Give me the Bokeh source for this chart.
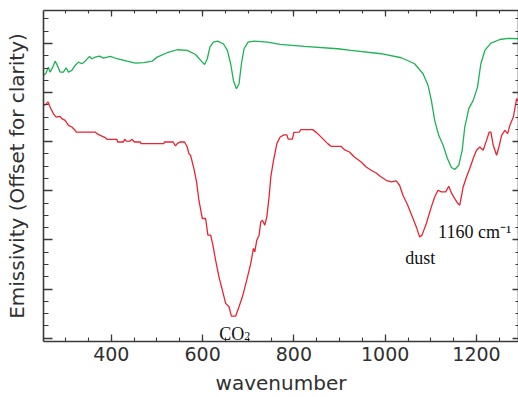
import numpy as np
from bokeh.plotting import figure
from bokeh.models import Range1d, LinearAxis, FixedTicker, Label
from bokeh.embed import file_html
from bokeh.resources import INLINE

# ---- data ----
red_wn = [251.2, 254.2, 261.5, 265.9, 273.1, 279.1, 287.9, 291.6, 298.9, 306.1, 313.6, 320.8, 323.0,
          364.8, 368.5, 375.8, 386.8, 390.5, 412.5, 413.8, 427.0, 429.2, 432.9, 440.2, 445.5, 450.5,
          463.7, 465.2, 514.9, 516.5, 535.6, 540.6, 544.4, 550.1, 560.4, 566.4, 569.9, 573.6, 580.9,
          586.8, 591.9, 599.3, 606.6, 611.6, 617.6, 622.6, 628.5, 635.8, 643.3, 650.5, 657.8, 663.1,
          672.5, 679.8, 687.2, 696.7, 705.5, 711.4, 714.3, 718.7, 723.7, 727.5, 731.2, 736.3, 740.7,
          745.7, 749.4, 755.4, 762.6, 769.9, 778.7, 784.6, 787.5, 796.7, 800.0, 811.7, 815.4, 841.1,
          852.1, 863.1, 874.1, 881.3, 903.3, 910.6, 921.6, 932.5, 947.3, 958.3, 969.2, 980.2, 991.2,
          1002.2, 1013.2, 1024.2, 1031.5, 1038.9, 1048.4, 1057.2, 1068.2, 1075.4, 1080.7, 1090.1,
          1101.1, 1108.4, 1115.8, 1123.1, 1132.5, 1139.2, 1145.1, 1152.3, 1158.3, 1163.3, 1170.8,
          1178.1, 1185.3, 1192.8, 1200.0, 1207.3, 1214.7, 1222.0, 1227.9, 1231.5, 1236.7, 1244.0,
          1249.1, 1255.0, 1262.2, 1268.2, 1273.2, 1280.7, 1287.9, 1293.0]
red_em = [4.774, 4.740, 4.807, 4.705, 4.571, 4.502, 4.516, 4.470, 4.435, 4.333, 4.299, 4.232, 4.197,
          4.197, 4.165, 4.130, 4.083, 4.049, 4.049, 3.994, 3.994, 4.049, 4.014, 4.008, 4.049, 3.994,
          3.994, 3.961, 3.961, 3.994, 3.994, 3.913, 3.961, 3.994, 3.994, 3.892, 3.758, 3.724, 3.459,
          3.181, 2.809, 2.437, 2.437, 2.098, 2.098, 1.894, 1.589, 1.250, 0.980, 0.709, 0.640, 0.451,
          0.451, 0.640, 0.843, 1.183, 1.522, 1.827, 1.758, 1.996, 2.098, 2.368, 2.402, 2.301, 2.470,
          2.876, 3.283, 3.622, 3.961, 4.096, 4.140, 4.140, 4.053, 4.053, 4.191, 4.197, 4.246, 4.246,
          4.165, 4.063, 3.961, 3.907, 3.907, 3.839, 3.791, 3.689, 3.587, 3.486, 3.419, 3.364, 3.283,
          3.215, 3.181, 3.201, 3.114, 2.911, 2.728, 2.524, 2.266, 2.063, 2.098, 2.335,
          2.673, 2.876, 3.012, 2.978, 2.978, 3.093, 2.957, 2.843, 2.754, 2.707, 3.079,
          3.283, 3.453, 3.657, 3.825, 3.892, 3.825, 4.028, 4.197, 4.197, 3.927, 3.724,
          3.892, 4.130, 4.232, 4.165, 4.333, 4.502, 4.876, 4.807]

green_wn = [251.2, 257.1, 262.1, 265.9, 271.8, 276.9, 281.9, 287.9, 295.1, 301.1, 306.1, 313.6, 320.8,
            328.1, 335.6, 342.8, 352.3, 357.5, 364.8, 374.2, 383.0, 397.8, 412.5, 434.5, 452.7, 471.0,
            489.4, 500.4, 522.4, 544.4, 566.4, 584.6, 599.3, 604.4, 610.3, 616.0, 623.5, 632.3, 645.5,
            654.3, 661.5, 667.5, 674.1, 679.8, 685.1, 690.8, 699.6, 712.8, 742.2, 769.9, 822.6, 896.0,
            925.3, 991.2, 1035.2, 1064.4, 1082.9, 1093.9, 1101.1, 1108.4, 1117.2, 1126.9, 1136.3,
            1145.1, 1152.3, 1161.1, 1168.6, 1174.3, 1183.1, 1192.8, 1202.2, 1209.5, 1218.3, 1231.5,
            1251.3, 1269.7, 1291.7]
green_em = [5.350, 5.396, 5.518, 5.417, 5.518, 5.640, 5.553, 5.417, 5.417, 5.506, 5.417, 5.451, 5.553,
            5.620, 5.587, 5.640, 5.736, 5.689, 5.722, 5.742, 5.701, 5.736, 5.689, 5.640, 5.600, 5.608,
            5.640, 5.722, 5.811, 5.872, 5.858, 5.776, 5.620, 5.573, 5.689, 5.925, 6.026, 6.047, 5.994,
            5.858, 5.587, 5.248, 5.079, 5.181, 5.587, 5.892, 6.026, 6.047, 6.026, 5.980, 5.939, 5.892,
            5.858, 5.791, 5.709, 5.587, 5.384, 5.146, 4.841, 4.435, 4.130, 3.927, 3.657,
            3.474, 3.433, 3.520, 3.825, 4.299, 4.673, 4.841, 5.112, 5.587, 5.858, 6.006,
            6.081, 6.102, 6.096]

x_major = [400, 600, 800, 1000, 1200]
x_minor = list(range(300, 1300, 50))
y_major = [0, 1, 2, 3, 4, 5, 6]
y_minor = [i * 0.25 for i in range(0, 28)]

# annotation texts and their anchor positions (data units)
co2_x, co2_y = 673.6, 0.085
dust_x, dust_y = 1077.0, 1.64
band_x, band_y = 1115.8, 2.165

RED = "#ec2330"
GREEN = "#1db254"
AXC = "#3a3a3a"
TICK_FONT = "DejaVu Sans"
SERIF = "Liberation Serif"

p = figure(width=518, height=397,
           x_range=Range1d(251.5, 1292), y_range=Range1d(-0.067, 6.671),
           output_backend="svg", toolbar_location=None,
           min_border_left=43, min_border_top=10, min_border_right=0, min_border_bottom=55)
p.outline_line_color = None
p.xgrid.visible = False
p.ygrid.visible = False

p.line(red_wn, red_em, line_color=RED, line_width=1.3)
p.line(green_wn, green_em, line_color=GREEN, line_width=1.3)

xt = FixedTicker(ticks=x_major, minor_ticks=x_minor)
yt = FixedTicker(ticks=y_major, minor_ticks=y_minor)

def style(ax, tin, min_in, labels):
    ax.axis_line_color = AXC
    ax.axis_line_width = 1.6
    ax.major_tick_line_color = AXC
    ax.minor_tick_line_color = AXC
    ax.major_tick_line_width = 1.3
    ax.minor_tick_line_width = 1.1
    ax.major_tick_in = tin
    ax.major_tick_out = 0
    ax.minor_tick_in = min_in
    ax.minor_tick_out = 0
    if labels:
        ax.major_label_text_font = TICK_FONT
        ax.major_label_text_font_size = "19px"
        ax.major_label_text_color = "#303030"
        ax.major_label_standoff = 5
    else:
        ax.major_label_text_font_size = "1px"
        ax.major_label_text_color = None
        ax.major_label_text_alpha = 0
        ax.major_label_standoff = 0

xa = p.xaxis[0]
xa.ticker = xt
style(xa, 7, 4, True)
xa.axis_label = "wavenumber"
xa.axis_label_text_font = TICK_FONT
xa.axis_label_text_font_size = "20px"
xa.axis_label_text_font_style = "normal"
xa.axis_label_text_color = "#303030"
xa.axis_label_standoff = 7

ya = p.yaxis[0]
ya.ticker = yt
style(ya, 9, 5, False)
ya.axis_label = "Emissivity (Offset for clarity)"
ya.axis_label_text_font = TICK_FONT
ya.axis_label_text_font_size = "20px"
ya.axis_label_text_font_style = "normal"
ya.axis_label_text_color = "#303030"
ya.axis_label_standoff = 15

top = LinearAxis(ticker=FixedTicker(ticks=x_major, minor_ticks=x_minor))
style(top, 6, 3, False)
p.add_layout(top, "above")
right = LinearAxis(ticker=FixedTicker(ticks=y_major, minor_ticks=y_minor))
style(right, 6, 3, False)
p.add_layout(right, "right")

def note(text, x, y, align, size="18px", x_offset=0):
    p.add_layout(Label(x=x, y=y, text=text, text_align=align, text_baseline="alphabetic",
                       text_font=SERIF, text_font_size=size, text_color="#111111",
                       x_offset=x_offset))

note("CO", co2_x, co2_y, "right", x_offset=8)
note("2", co2_x, co2_y - 0.03, "left", size="12px", x_offset=8)
note("dust", dust_x, dust_y, "center")
note("1160 cm\u207b\u00b9", band_x, band_y, "left")

open("out.html", "w").write(file_html(p, INLINE))
